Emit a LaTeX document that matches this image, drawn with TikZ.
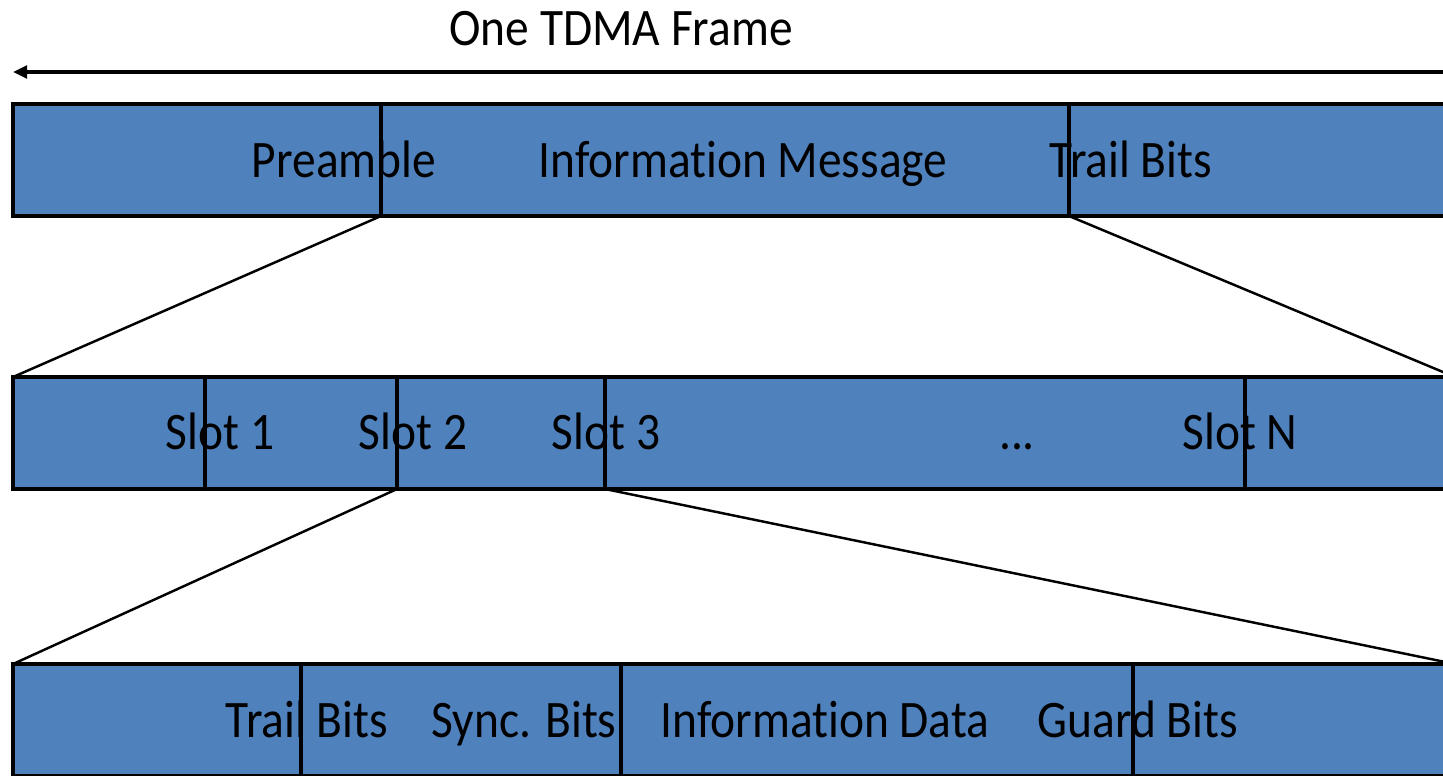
\documentclass[tikz,border=0pt]{standalone}
\usepackage{fontspec}
\setmainfont{Carlito}[FakeStretch=0.9, Ligatures=CommonOff]
\usepackage{xcolor}
\usetikzlibrary{arrows.meta,positioning}

\definecolor{slotblue}{HTML}{4F81BD}

\begin{document}
\begin{tikzpicture}[
    x=0.1mm, y=-0.1mm,
    seg/.style={draw, rectangle, line width=1pt, fill=slotblue, minimum height=11.2mm, outer sep=0pt, inner sep=0pt},
    lbl/.style={font=\fontsize{15}{18}\selectfont, inner sep=0pt, anchor=base},
    link/.style={line width=0.7pt},
    span/.style={-{Triangle[length=4pt,width=3.6pt]}, line width=0.9pt}
]
\useasboundingbox (0,0) rectangle (1443,775);
\clip (0,0) rectangle (1443,775);

% frame row
\node[seg, minimum width=36.8mm, anchor=north west] (pre) at (13,104) {};
\node[seg, minimum width=68.8mm, right=0pt of pre] (info) {};
\node[seg, minimum width=38.6mm, right=0pt of info] (trail) {};

% slot row
\node[seg, minimum width=19.2mm, anchor=north west] (s1) at (13,377) {};
\node[seg, minimum width=19.2mm, right=0pt of s1] (s2) {};
\node[seg, minimum width=20.8mm, right=0pt of s2] (s3) {};
\node[seg, minimum width=64mm, right=0pt of s3] (sdots) {};
\node[seg, minimum width=21mm, right=0pt of sdots] (sN) {};

% bit row
\node[seg, minimum width=28.8mm, anchor=north west] (b1) at (13,664) {};
\node[seg, minimum width=32mm, right=0pt of b1] (b2) {};
\node[seg, minimum width=51.2mm, right=0pt of b2] (b3) {};
\node[seg, minimum width=32.2mm, right=0pt of b3] (b4) {};

% frame span
\coordinate (spanR) at (1455,72);
\coordinate (spanL) at (13,72);
\draw[span] (spanR) -- (spanL);
\node[lbl] (title) at (621,45) {One TDMA Frame};

% labels
\node[lbl] (tPre) at (344,177) {Preamble};
\node[lbl] (tInfo) at (743,177) {Information Message};
\node[lbl] (tTrail) at (1131,177) {Trail Bits};

\node[lbl] (tS1) at (220,449) {Slot 1};
\node[lbl] (tS2) at (413,449) {Slot 2};
\node[lbl] (tS3) at (606,449) {Slot 3};
\node[lbl] (tDots) at (1017,449) {...};
\node[lbl] (tSN) at (1240,449) {Slot N};

\node[lbl] (tB1) at (307,737) {Trail Bits};
\node[lbl] (tB2) at (524,737) {Sync. Bits};
\node[lbl] (tB3) at (825,737) {Information Data};
\node[lbl] (tB4) at (1138,737) {Guard Bits};

% zoom lines
\draw[link] (pre.south east) -- (s1.north west);
\draw[link] (info.south east) -- (sN.north east);
\draw[link] (s2.south east) -- (b1.north west);
\draw[link] (s3.south east) -- (b4.north east);

\end{tikzpicture}
\end{document}
